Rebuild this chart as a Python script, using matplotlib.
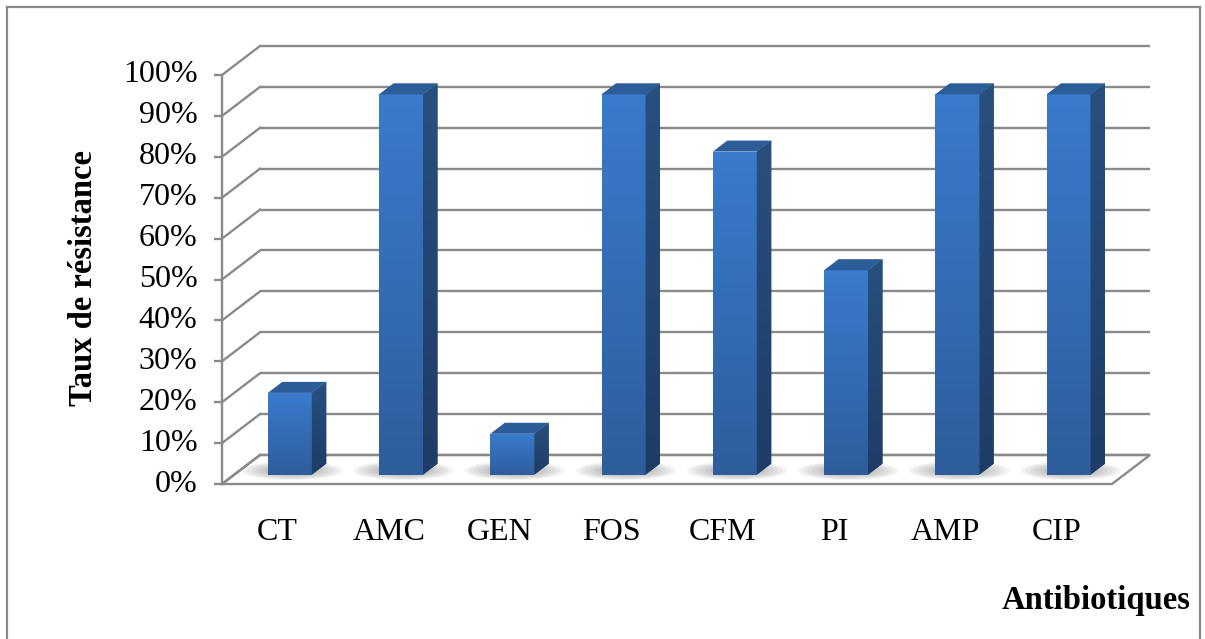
"""Taux de résistance aux antibiotiques - pseudo-3D bar chart."""

import matplotlib

matplotlib.use("Agg")
import matplotlib.pyplot as plt  # noqa: E402
import numpy as np  # noqa: E402
from matplotlib.colors import LinearSegmentedColormap  # noqa: E402
from matplotlib.lines import Line2D  # noqa: E402
from matplotlib.patches import Ellipse, Polygon  # noqa: E402

categories = ["CT", "AMC", "GEN", "FOS", "CFM", "PI", "AMP", "CIP"]
resistance = [20, 93, 10, 93, 79, 50, 93, 93]
y_ticks = list(range(0, 101, 10))
y_tick_labels = [f"{t}%" for t in y_ticks]

# receding offset of the back wall (data units) and bar placement within the depth
DEPTH_X, DEPTH_Y = 0.342, 7.1
FRONT, BACK = 0.32, 0.70
BAR_W = 0.395
GRID = "#8a8a8a"
FONT = "Liberation Serif"
FS = 23

W, H = 1205, 639
fig = plt.figure(figsize=(W / 100, H / 100), dpi=100)
fig.patch.set_facecolor("white")
ax = fig.add_axes([222 / W, 1 - 484 / H, 890 / W, 409 / H])
n = len(categories)
x0, x1 = -0.5, n - 0.5

# floor
floor = Polygon(
    [(x0, 0), (x1, 0), (x1 + DEPTH_X, DEPTH_Y), (x0 + DEPTH_X, DEPTH_Y)],
    closed=True, facecolor="white", edgecolor=GRID, linewidth=1.7, zorder=1,
    clip_on=False,
)
ax.add_patch(floor)

# back wall gridlines, side wall diagonals, ticks
for t in y_ticks:
    ax.plot([x0 + DEPTH_X, x1 + DEPTH_X], [t + DEPTH_Y, t + DEPTH_Y],
            color=GRID, lw=1.7, zorder=1.5, clip_on=False, solid_capstyle="butt")
    ax.plot([x0, x0 + DEPTH_X], [t, t + DEPTH_Y], color=GRID, lw=1.7,
            zorder=1.5, clip_on=False)
    ax.plot([x0 - 0.072, x0], [t, t], color=GRID, lw=1.7, zorder=1.5,
            clip_on=False, solid_capstyle="butt")
ax.plot([x0, x0], [0, 100], color=GRID, lw=1.7, zorder=1.5, clip_on=False)

for t, lab in zip(y_ticks, y_tick_labels):
    ax.text(x0 - 0.22, t, lab, ha="right", va="center", fontsize=FS,
            family=FONT, color="black")

for i, cat in enumerate(categories):
    ax.text(i, -11.8, cat, ha="center", va="center", fontsize=FS,
            family=FONT, color="black")

front_cmap = LinearSegmentedColormap.from_list("front", ["#2e5d9c", "#3a7bcd"])
side_cmap = LinearSegmentedColormap.from_list("side", ["#1e3c66", "#28507f"])
base = FRONT * DEPTH_Y
ddx = (BACK - FRONT) * DEPTH_X
ddy = (BACK - FRONT) * DEPTH_Y
grad = np.linspace(0, 1, 256).reshape(-1, 1)

for i, v in enumerate(resistance):
    cx = i + FRONT * DEPTH_X
    xl, xr = cx - BAR_W / 2, cx + BAR_W / 2
    z = 3 + i * 0.1

    # soft shadow on the floor
    for k in range(10):
        s = 1 - k / 11
        ax.add_patch(Ellipse((cx + 0.02, base + 1.0), 0.9 * s, 4.6 * s,
                             facecolor="#6e6e6e", edgecolor="none",
                             alpha=0.08, zorder=2, clip_on=False))

    bar = ax.bar(cx, v, width=BAR_W, bottom=base, color="#3470bb",
                 edgecolor="none", zorder=z)[0]
    im = ax.imshow(grad, cmap=front_cmap, origin="lower", aspect="auto",
                   extent=(xl, xr, base, base + v), zorder=z + 0.01)
    im.set_clip_path(bar)

    side = Polygon([(xr, base), (xr + ddx, base + ddy),
                    (xr + ddx, base + v + ddy), (xr, base + v)],
                   closed=True, facecolor="#234a7c", edgecolor="none",
                   zorder=z + 0.02, clip_on=False)
    ax.add_patch(side)
    im2 = ax.imshow(grad, cmap=side_cmap, origin="lower", aspect="auto",
                    extent=(xr, xr + ddx, base, base + v + ddy), zorder=z + 0.03)
    im2.set_clip_path(side)

    top = Polygon([(xl, base + v), (xr, base + v), (xr + ddx, base + v + ddy),
                   (xl + ddx, base + v + ddy)],
                  closed=True, facecolor="#2c5d98", edgecolor="none",
                  zorder=z + 0.04, clip_on=False)
    ax.add_patch(top)

ax.set_xlim(x0, x1)
ax.set_ylim(0, 100)
ax.axis("off")

fig.text(83 / W, 1 - 278 / H, "Taux de résistance", rotation=90, ha="center",
         va="center", fontsize=FS + 0.5, fontweight="bold", family=FONT)
fig.text(1191 / W, 1 - 600 / H, "Antibiotiques", ha="right", va="center",
         fontsize=FS + 0.5, fontweight="bold", family=FONT)

# chart frame
fx0, fx1, fy1 = 7 / W, 1200 / W, 1 - 7 / H
for xs, ys in (([fx0, fx0], [0, fy1]), ([fx0, fx1], [fy1, fy1]), ([fx1, fx1], [0, fy1])):
    fig.add_artist(Line2D(xs, ys, color="#8a8a8a", lw=1.6, transform=fig.transFigure))

fig.savefig("out.png", dpi=100, facecolor="white")
